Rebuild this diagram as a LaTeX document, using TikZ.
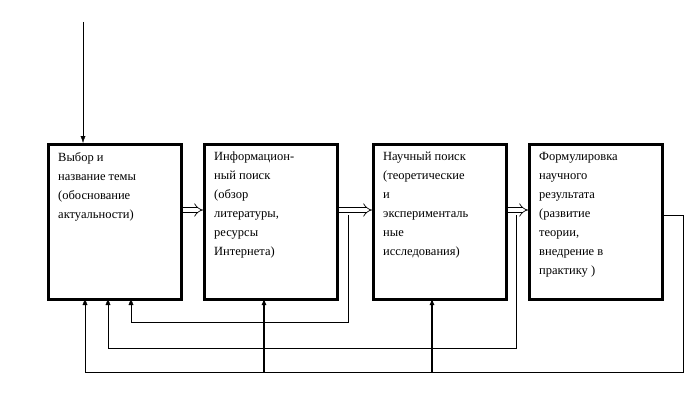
\documentclass[tikz,border=0pt]{standalone}
\usepackage{fontspec}
\setmainfont{Liberation Serif}
\usetikzlibrary{arrows.meta}
\tikzset{
blok/.style={draw, line width=2.5pt, minimum width=133pt, minimum height=155pt, anchor=north west, inner sep=0pt},
txt/.style={anchor=north west, align=left, font=\fontsize{12.5pt}{19pt}\selectfont, inner sep=0pt},
pusto/.style={double, double distance=4pt, line width=0.7pt, -{Implies[length=5pt]}},
}
\begin{document}
\begin{tikzpicture}[x=1pt,y=-1pt]
\useasboundingbox (0,0) rectangle (696,420);
\node[blok] (b1) at (47,143) {};
\node[blok] (b2) at (203,143) {};
\node[blok] (b3) at (372,143) {};
\node[blok] (b4) at (528,143) {};
% texts
\node[txt] (t1) at (58,152) {Выбор и\\название темы\\(обоснование\\актуальности)};
\node[txt] (t2) at (214,152) {Информацион-\\ный поиск\\(обзор\\литературы,\\ресурсы\\Интернета)};
\node[txt] (t3) at (383,152) {Научный поиск\\(теоретические\\и\\эксперименталь\\ные\\исследования)};
\node[txt] (t4) at (539,152) {Формулировка\\научного\\результата\\(развитие\\теории,\\внедрение в\\практику )};
% hollow arrows
\draw[pusto] (b1.east|-0,210) -- (b2.west|-0,210);
\draw[pusto] (b2.east|-0,210) -- (b3.west|-0,210);
\draw[pusto] (b3.east|-0,210) -- (b4.west|-0,210);
% input
\coordinate (in) at (83,22);
\draw[-{Latex[length=7pt,width=5pt]}] (in) -- (in|-b1.north);
% feedback
\coordinate (f1) at (348,215);
\coordinate (f2) at (516,215);
\coordinate (f3) at (661,215);
\draw[-{Latex[length=7pt,width=5pt]}] (f1) -- (348,322) -- (131,322) -- (131,298);
\draw[-{Latex[length=7pt,width=5pt]}] (f2) -- (516,348) -- (108,348) -- (108,298);
\draw[-{Latex[length=7pt,width=5pt]}] (f3) -- (683,215) -- (683,372) -- (85,372) -- (85,298);
\draw[line width=1.5pt, -{Latex[length=7pt,width=5pt]}] (264,372) -- (264,298);
\draw[line width=1.5pt, -{Latex[length=7pt,width=5pt]}] (432,372) -- (432,298);
\end{tikzpicture}
\end{document}
